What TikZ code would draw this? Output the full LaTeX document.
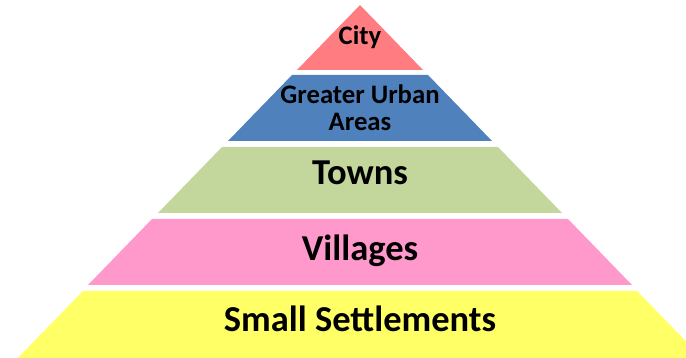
\documentclass[tikz,border=0pt]{standalone}
\usepackage{fontspec}
\setmainfont{Carlito}
\usetikzlibrary{positioning}

\definecolor{cityred}{HTML}{FF7C80}
\definecolor{urbanblue}{HTML}{4F81BD}
\definecolor{townsgreen}{HTML}{C3D69B}
\definecolor{villpink}{HTML}{FF99CC}
\definecolor{smallyellow}{HTML}{FFFF66}

\tikzset{
  layer/.style={draw=none},
  biglabel/.style={font=\fontsize{36.5}{38}\selectfont\bfseries, inner sep=0pt, anchor=base},
  smalllabel/.style={font=\fontsize{26.7}{27}\selectfont\bfseries, inner sep=0pt, align=center}
}

\begin{document}
\begin{tikzpicture}[x=1pt, y=-1pt]
    \useasboundingbox (0,0) rectangle (686,358);
    \clip (0,0) rectangle (686,358);

    % pyramid layers, top to bottom
    \fill[layer, cityred] (360,5) -- (423,70) -- (297,70) -- cycle;
    \fill[layer, urbanblue] (292,75) -- (428,75) -- (492,141) -- (228,141) -- cycle;
    \fill[layer, townsgreen] (222,147) -- (498,147) -- (562,213) -- (158,213) -- cycle;
    \fill[layer, villpink] (152,219) -- (568,219) -- (632,285) -- (88,285) -- cycle;
    \fill[layer, smallyellow] (83,291) -- (637,291) -- (709,365) -- (11,365) -- cycle;

    % labels
    \node[smalllabel, anchor=base] (city) at (360,45) {City};
    \node[smalllabel] (urban) at (360,107.5) {Greater Urban\\Areas};
    \node[biglabel] (towns) at (360,185) {Towns};
    \node[biglabel] (villages) at (360,261) {Villages};
    \node[biglabel] (small) at (360,332) {Small Settlements};
\end{tikzpicture}
\end{document}
